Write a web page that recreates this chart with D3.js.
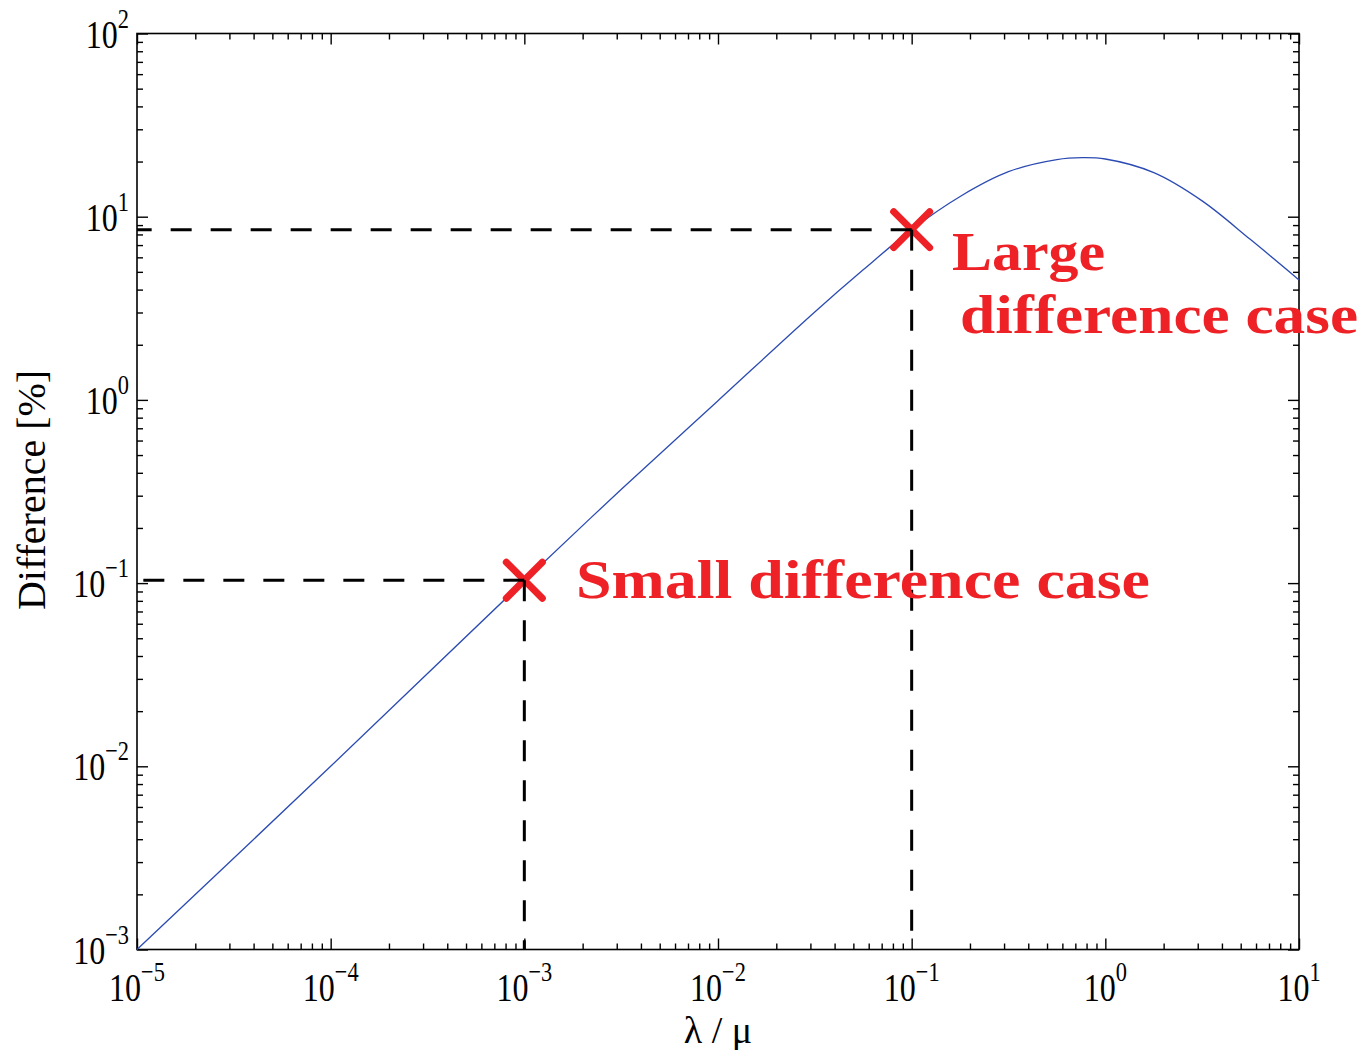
<!DOCTYPE html>
<html>
<head>
<meta charset="utf-8">
<script src="https://cdn.jsdelivr.net/npm/d3@7"></script>
<style>
  body { margin: 0; background: #fff; }
  svg { display: block; }
</style>
</head>
<body>
<main></main>
<script>
// curve (x = lambda/mu, y = difference in %)
const lambdaMu = [0.00001, 0.0001, 0.001, 0.00316, 0.01, 0.0316, 0.0562, 0.1, 0.178, 0.316, 0.562, 0.759, 1, 1.78, 3.16, 5.62, 10];
const diffPct  = [0.001, 0.01, 0.103, 0.324, 0.99, 3.02, 5.13, 8.5, 12.9, 17.6, 20.5, 21.0, 20.65, 17.4, 12.2, 7.5, 4.52];

// highlighted cases
const caseX = [0.001, 0.1];
const caseY = [0.1037, 8.5];
const caseLabels = [["Small difference case"], ["Large", "difference case"]];

const xDecades = [-5, -4, -3, -2, -1, 0, 1];
const yDecades = [-3, -2, -1, 0, 1, 2];

const WIDTH = 1362, HEIGHT = 1050;
const margin = { left: 137, right: 63, top: 33.5, bottom: 100.5 };
const w = WIDTH - margin.left - margin.right;
const h = HEIGHT - margin.top - margin.bottom;

const RED = '#ee2226';
const SERIF = '"Liberation Serif", "Times New Roman", serif';

const svg = d3.select('main')
  .append('svg')
  .attr('width', WIDTH)
  .attr('height', HEIGHT);

const pane = svg.append('g')
  .attr('transform', `translate(${margin.left},${margin.top})`);

const x = d3.scaleLog().domain([1e-5, 10]).range([0, w]);
const y = d3.scaleLog().domain([1e-3, 100]).range([h, 0]);

// major and minor tick values
const minor = (decs) => {
  const out = [];
  decs.slice(0, -1).forEach(d => {
    for (let k = 2; k <= 9; k++) out.push(k * Math.pow(10, d));
  });
  return out;
};
const xMajor = xDecades.map(d => Math.pow(10, d));
const yMajor = yDecades.map(d => Math.pow(10, d));
const xMinor = minor(xDecades);
const yMinor = minor(yDecades);

function drawAxis(axisFn, scale, values, size, transform) {
  const g = pane.append('g')
    .attr('transform', transform)
    .call(axisFn(scale).tickValues(values).tickSize(-size).tickFormat(''));
  g.select('.domain').remove();
  g.selectAll('line').attr('stroke', '#000').attr('stroke-width', 1.4);
}

drawAxis(d3.axisBottom, x, xMajor, 11, `translate(0,${h})`);
drawAxis(d3.axisBottom, x, xMinor, 6, `translate(0,${h})`);
drawAxis(d3.axisTop, x, xMajor, 11, 'translate(0,0)');
drawAxis(d3.axisTop, x, xMinor, 6, 'translate(0,0)');
drawAxis(d3.axisLeft, y, yMajor, 11, 'translate(0,0)');
drawAxis(d3.axisLeft, y, yMinor, 6, 'translate(0,0)');
drawAxis(d3.axisRight, y, yMajor, 11, `translate(${w},0)`);
drawAxis(d3.axisRight, y, yMinor, 6, `translate(${w},0)`);

pane.append('rect')
  .attr('width', w)
  .attr('height', h)
  .attr('fill', 'none')
  .attr('stroke', '#000')
  .attr('stroke-width', 1.6);

// tick labels, 10 with exponent
function powerLabel(g, exp, anchor) {
  const t = g.append('text')
    .attr('font-family', SERIF)
    .attr('font-size', 40)
    .attr('fill', '#000')
    .attr('text-anchor', anchor);
  t.append('tspan').text('10');
  t.append('tspan')
    .attr('font-size', 28)
    .attr('dy', -20)
    .text(exp < 0 ? '\u2212' + (-exp) : String(exp));
}

xDecades.forEach(d => {
  const g = pane.append('g')
    .attr('transform', `translate(${x(Math.pow(10, d))},${h + 51}) scale(0.8,1)`);
  powerLabel(g, d, 'middle');
});

yDecades.forEach(d => {
  const g = pane.append('g')
    .attr('transform', `translate(-8,${y(Math.pow(10, d)) + 14}) scale(0.8,1)`);
  powerLabel(g, d, 'end');
});

// axis titles
svg.append('text')
  .attr('x', margin.left + w / 2)
  .attr('y', 1043)
  .attr('text-anchor', 'middle')
  .attr('font-family', SERIF)
  .attr('font-size', 38)
  .text('\u03bb / \u03bc');

svg.append('text')
  .attr('transform', 'translate(45,490) rotate(-90)')
  .attr('text-anchor', 'middle')
  .attr('font-family', SERIF)
  .attr('font-size', 40)
  .text('Difference [%]');

// the curve
const line = d3.line()
  .x((d, i) => x(lambdaMu[i]))
  .y(d => y(d))
  .curve(d3.curveCatmullRom.alpha(0.5));

pane.append('path')
  .datum(diffPct)
  .attr('d', line)
  .attr('fill', 'none')
  .attr('stroke', '#2b4bb3')
  .attr('stroke-width', 1.3);

// red crosses
const arm = 18;
caseX.forEach((cx, i) => {
  const px = x(cx), py = y(caseY[i]);
  pane.append('path')
    .attr('d', `M${px - arm},${py - arm}L${px + arm},${py + arm}M${px - arm},${py + arm}L${px + arm},${py - arm}`)
    .attr('stroke', RED)
    .attr('stroke-width', 7)
    .attr('stroke-linecap', 'round');
});

// dashed guide lines, dash pattern starts at the case point
caseX.forEach((cx, i) => {
  const px = x(cx), py = y(caseY[i]);
  pane.append('path')
    .attr('d', `M${px},${py}L0,${py}`)
    .attr('stroke', '#000')
    .attr('stroke-width', 3)
    .attr('stroke-dasharray', '21,19')
    .attr('fill', 'none');
  pane.append('path')
    .attr('d', `M${px},${py}L${px},${h}`)
    .attr('stroke', '#000')
    .attr('stroke-width', 3)
    .attr('stroke-dasharray', '21,19')
    .attr('fill', 'none');
});

// case labels
const labelPos = [
  [{ x: 576, y: 598, len: 574 }],
  [{ x: 952, y: 270, len: 153 }, { x: 960, y: 333, len: 398 }]
];
caseLabels.forEach((lines, i) => {
  lines.forEach((txt, j) => {
    const p = labelPos[i][j];
    svg.append('text')
      .attr('x', p.x)
      .attr('y', p.y)
      .attr('font-family', SERIF)
      .attr('font-weight', 'bold')
      .attr('font-size', 55)
      .attr('fill', RED)
      .attr('textLength', p.len)
      .attr('lengthAdjust', 'spacingAndGlyphs')
      .text(txt);
  });
});
</script>
</body>
</html>
